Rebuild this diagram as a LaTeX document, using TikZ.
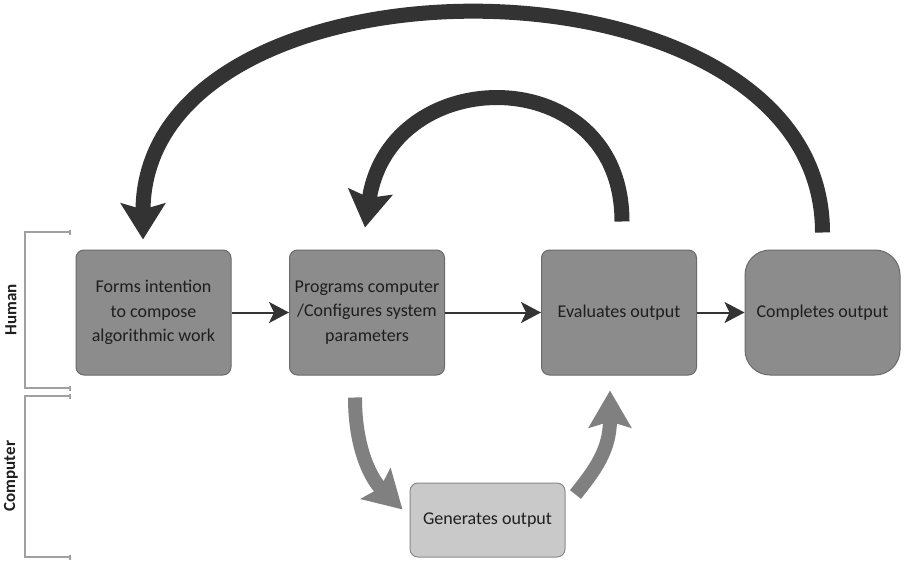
\documentclass[tikz,border=0pt]{standalone}
\usepackage{fontspec}
\setmainfont{Carlito}
\usetikzlibrary{arrows.meta}
\definecolor{boxfill}{HTML}{8C8C8C}
\definecolor{boxline}{HTML}{6A6A6A}
\definecolor{lightfill}{HTML}{C9C9C9}
\definecolor{lightline}{HTML}{8A8A8A}
\definecolor{darkarr}{HTML}{333333}
\definecolor{grayarr}{HTML}{808080}
\definecolor{brk}{HTML}{A0A0A0}
\definecolor{txt}{HTML}{1E1E1E}
\tikzset{
  stepbox/.style={draw=boxline, line width=1pt, fill=boxfill, rounded corners=8pt,
    minimum width=155pt, minimum height=125pt, inner sep=0pt, align=center,
    text=txt, font=\fontsize{18}{24.5}\selectfont},
  endbox/.style={stepbox, rounded corners=25pt},
  compbox/.style={stepbox, fill=lightfill, draw=lightline, minimum height=74pt},
  flow/.style={draw=darkarr, line width=2pt, -{Stealth[length=20pt,width=21pt,inset=5pt]}},
  bigloop/.style={draw=darkarr, line width=15pt, -{Stealth[length=36pt,width=44pt,inset=6pt]}},
  graycurve/.style={draw=grayarr, line width=14pt, -{Stealth[length=37pt,width=42pt,inset=6pt]}},
  bracket/.style={draw=brk, line width=1.5pt},
  sidelabel/.style={rotate=90, font=\fontsize{17}{20}\selectfont\bfseries, text=txt}
}
\begin{document}
\begin{tikzpicture}[x=1pt,y=-1pt]
\fill[white] (0,0) rectangle (910,572);
\useasboundingbox (0,0) rectangle (910,572);

% brackets
\draw[bracket] (70,232) -- (25,232) -- (25,388) -- (70,388);
\draw[bracket] (70,396) -- (25,396) -- (25,557) -- (70,557);
\foreach \yy in {232,388,396,557} \draw[brk, line width=1.2pt] (70,\yy-2.5) -- (70,\yy+2.5);
\node[sidelabel] (hum) at (11,310) {Human};
\node[sidelabel] (comp) at (11,476) {Computer};

% boxes
\node[stepbox] (b1) at (153.5,312.5) {Forms intention\\to compose\\algorithmic work};
\node[stepbox] (b2) at (367,312.5) {Programs computer\\/Configures system\\parameters};
\node[stepbox] (b3) at (619,312.5) {Evaluates output};
\node[endbox]  (b4) at (822.5,312.5) {Completes output};
\node[compbox] (b5) at (487.5,520) {Generates output};

% horizontal flow
\draw[flow] (b1) -- (b2);
\draw[flow] (b2) -- (b3);
\draw[flow] (b3) -- (b4);

% feedback loops
\draw[bigloop] ([yshift=17pt]b4.north) .. controls (822.5,-59) and (143,-59) .. ([xshift=-10.5pt,yshift=10pt]b1.north);
\draw[bigloop] ([xshift=3pt,yshift=28pt]b3.north) .. controls (622,60) and (390,60) .. ([xshift=-2pt,yshift=22pt]b2.north);

% computer loop
\draw[graycurve] ([xshift=-12pt,yshift=-22pt]b2.south) .. controls (355,450) and (372,480) .. ([xshift=-7pt,yshift=-27pt]b5.north west);
\draw[graycurve] ([xshift=10pt,yshift=-12pt]b5.north east) .. controls (595,470) and (610,450) .. ([xshift=-9pt,yshift=-15pt]b3.south);
\end{tikzpicture}
\end{document}
